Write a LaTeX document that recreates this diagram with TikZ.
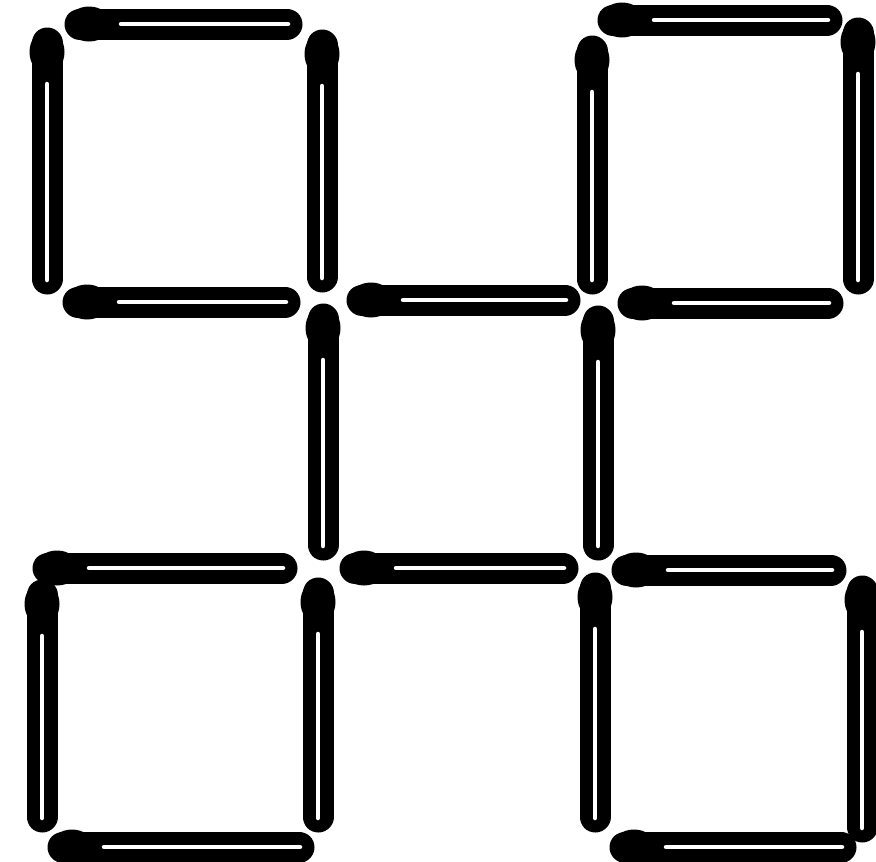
\documentclass[tikz,border=0pt]{standalone}
\tikzset{
  stick/.style={line width=31pt,line cap=round,draw=black},
  slit/.style={line width=4.5pt,line cap=round,draw=white},
  headblob/.style={fill=black}
}
\newcommand\hmatch[3]{% x head, x tail, y
  \draw[stick] (#1+15,#3) -- (#2-15,#3);
  \fill[headblob] (#1+24,#3) ellipse (22pt and 17.5pt);
  \draw[slit] (#1+56,#3) -- (#2-14,#3);}
\newcommand\vmatch[3]{% x, y head, y tail
  \draw[stick] (#1,#2+15) -- (#1,#3-15);
  \fill[headblob] (#1,#2+24) ellipse (17.5pt and 22pt);
  \draw[slit] (#1,#2+56) -- (#1,#3-14);}
\begin{document}
\begin{tikzpicture}[x=1pt,y=-1pt]
\useasboundingbox (0,0) rectangle (876,862);
\fill[white] (0,0) rectangle (876,862);
% horizontals
\hmatch{65}{302}{24}
\hmatch{598}{842}{20}
\hmatch{63}{300}{302}
\hmatch{347}{580}{300}
\hmatch{618}{843}{303}
\hmatch{33}{297}{568}
\hmatch{340}{578}{568}
\hmatch{612}{846}{570}
\hmatch{48}{314}{847}
\hmatch{610}{856}{847}
% verticals
\vmatch{47}{28}{294}
\vmatch{322}{30}{292}
\vmatch{592}{36}{294}
\vmatch{858}{18}{294}
\vmatch{323}{304}{560}
\vmatch{598}{306}{560}
\vmatch{42}{580}{832}
\vmatch{318}{578}{832}
\vmatch{595}{573}{832}
\vmatch{862}{576}{842}
\end{tikzpicture}
\end{document}
